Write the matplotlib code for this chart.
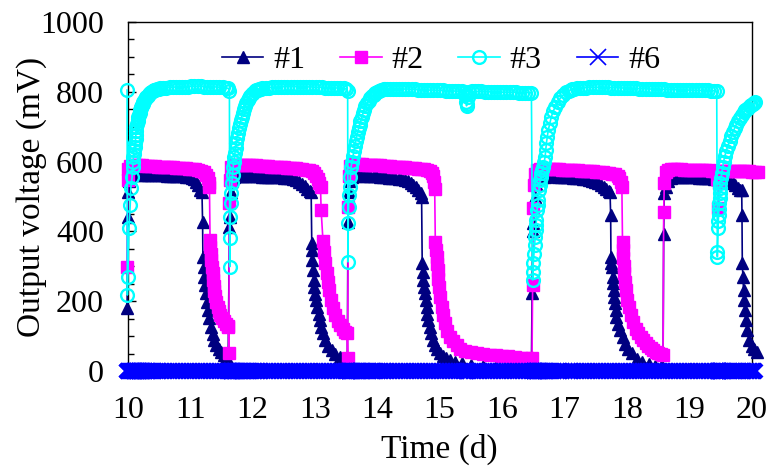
import matplotlib
matplotlib.use('Agg')
import matplotlib.pyplot as plt
from matplotlib.ticker import MultipleLocator

plt.rcParams['font.family'] = ['Liberation Serif', 'DejaVu Serif']

# #1 (navy triangles)
t1 = [9.99, 10.00, 10.005, 10.02, 10.04,
      10.08, 10.13, 10.18, 10.23, 10.28, 10.33, 10.38, 10.43, 10.48, 10.53, 10.58, 10.63, 10.68,
      10.73, 10.78, 10.83, 10.88, 10.93, 10.98, 11.03, 11.07, 11.10, 11.13, 11.16, 11.19,
      11.20, 11.205, 11.22, 11.23, 11.24, 11.25, 11.27, 11.29, 11.31, 11.33, 11.36, 11.39,
      11.42, 11.46, 11.50, 11.54, 11.58, 11.61,
      11.63, 11.64, 11.655, 11.67, 11.70,
      11.75, 11.80, 11.85, 11.90, 11.95, 12.00, 12.05, 12.10, 12.15, 12.20, 12.25, 12.30, 12.35,
      12.40, 12.45, 12.50, 12.55, 12.60, 12.65, 12.70, 12.75, 12.80, 12.84, 12.88, 12.92, 12.94,
      12.95, 12.955, 12.96, 12.97, 12.98, 12.99, 13.00, 13.02, 13.04, 13.06, 13.08, 13.10,
      13.13, 13.16, 13.21, 13.27, 13.33, 13.40, 13.46, 13.52,
      13.53, 13.54, 13.56, 13.59,
      13.64, 13.69, 13.74, 13.79, 13.84, 13.89, 13.94, 13.99, 14.04, 14.09, 14.14, 14.19, 14.24,
      14.29, 14.34, 14.39, 14.44, 14.49, 14.54, 14.58, 14.62, 14.66, 14.70,
      14.71, 14.72, 14.73, 14.74, 14.75, 14.76, 14.775, 14.79, 14.80, 14.82, 14.84, 14.86, 14.89,
      14.92, 14.96, 15.00, 15.05, 15.10, 15.16, 15.25, 15.35, 15.50, 15.70, 15.90, 16.10, 16.30,
      16.47,
      16.48, 16.49, 16.50, 16.52, 16.55, 16.59,
      16.64, 16.69, 16.74, 16.79, 16.84, 16.89, 16.94, 16.99, 17.04, 17.09, 17.14, 17.19, 17.24,
      17.29, 17.34, 17.39, 17.44, 17.49, 17.54, 17.59, 17.63, 17.67, 17.71, 17.73,
      17.74, 17.745, 17.75, 17.76, 17.77, 17.78, 17.79, 17.80, 17.81, 17.82, 17.83, 17.86, 17.89,
      17.93, 17.97, 18.02, 18.08, 18.16, 18.25, 18.35, 18.45, 18.55, 18.58,
      18.59, 18.60, 18.62, 18.66, 18.70,
      18.75, 18.80, 18.85, 18.90, 18.95, 19.00, 19.05, 19.10, 19.15, 19.20, 19.25, 19.30, 19.35,
      19.40, 19.45, 19.50, 19.55, 19.60, 19.65, 19.70, 19.74, 19.78, 19.82, 19.84,
      19.845, 19.85, 19.86, 19.87, 19.88, 19.89, 19.91, 19.93, 19.96, 20.00, 20.04, 20.08]
v1 = [180, 442, 514, 545, 558,
      563, 564, 564, 563, 563, 563, 562, 562, 561, 561, 561, 560, 560,
      559, 559, 558, 558, 557, 556, 554, 550, 543, 532, 518, 514,
      428, 327, 298, 270, 246, 223, 199, 175, 151, 127, 106, 89,
      76, 64, 54, 45, 38, 32,
      413, 442, 514, 545, 556,
      558, 559, 559, 559, 559, 558, 558, 558, 557, 557, 557, 556, 556,
      555, 555, 554, 553, 552, 550, 547, 543, 537, 529, 521, 516, 514,
      367, 347, 318, 290, 262, 242, 222, 203, 184, 165, 146, 127,
      108, 89, 73, 60, 50, 41, 35, 31,
      428, 514, 545, 556,
      560, 561, 561, 560, 560, 559, 559, 558, 557, 556, 555, 554, 553,
      552, 551, 549, 547, 544, 540, 534, 526, 518, 510,
      500, 309, 285, 261, 242, 223, 204, 184, 165, 146, 127, 109, 90,
      75, 62, 52, 44, 38, 32, 27, 22, 18, 15, 13, 12, 11,
      10,
      223, 400, 425, 500, 535, 550,
      555, 557, 558, 558, 558, 557, 557, 556, 556, 555, 554, 553, 552,
      551, 550, 548, 546, 543, 539, 534, 528, 521, 516, 514,
      447, 327, 310, 299, 270, 251, 232, 213, 194, 175, 156, 135, 117,
      97, 79, 64, 51, 36, 27, 20, 15, 12, 10,
      394, 509, 528, 546, 552,
      555, 556, 556, 556, 556, 555, 555, 555, 554, 554, 553, 553, 552,
      551, 550, 549, 548, 546, 543, 538, 532, 525, 520, 519,
      447, 309, 270, 232, 203, 175, 146, 117, 89, 72, 62, 55]

# #2 (magenta squares)
t2 = [9.99, 10.00, 10.01, 10.03,
      10.08, 10.13, 10.18, 10.23, 10.28, 10.33, 10.38, 10.43, 10.48, 10.53, 10.58, 10.63, 10.68,
      10.73, 10.78, 10.83, 10.88, 10.93, 10.98, 11.03, 11.08, 11.13, 11.18, 11.22, 11.25, 11.28,
      11.30, 11.31,
      11.32, 11.325, 11.33, 11.34, 11.35, 11.36, 11.37, 11.38, 11.39, 11.40, 11.42, 11.44, 11.46,
      11.48, 11.51, 11.54, 11.57, 11.60, 11.615, 11.62,
      11.63, 11.64, 11.66,
      11.70, 11.75, 11.80, 11.85, 11.90, 11.95, 12.00, 12.05, 12.10, 12.15, 12.20, 12.25, 12.30,
      12.35, 12.40, 12.45, 12.50, 12.55, 12.60, 12.65, 12.70, 12.75, 12.80, 12.85, 12.90, 12.95,
      12.99, 13.02, 13.05, 13.07, 13.09,
      13.10, 13.13, 13.15, 13.17, 13.19, 13.21, 13.23, 13.26, 13.29, 13.33, 13.37, 13.41, 13.45,
      13.49, 13.515, 13.525,
      13.535, 13.545, 13.565,
      13.60, 13.65, 13.70, 13.75, 13.80, 13.85, 13.90, 13.95, 14.00, 14.05, 14.10, 14.15, 14.20,
      14.25, 14.30, 14.35, 14.40, 14.45, 14.50, 14.55, 14.60, 14.65, 14.70, 14.75, 14.80,
      14.84, 14.87, 14.89, 14.91, 14.92,
      14.93, 14.94, 14.95, 14.96, 14.97, 14.98, 14.99, 15.01, 15.03, 15.05, 15.08, 15.12, 15.17,
      15.22, 15.27, 15.33, 15.40, 15.50, 15.60, 15.70, 15.80, 15.90, 16.00, 16.10, 16.20, 16.30,
      16.40, 16.48,
      16.49, 16.50, 16.51, 16.53, 16.56,
      16.61, 16.66, 16.71, 16.76, 16.81, 16.86, 16.91, 16.96, 17.01, 17.06, 17.11, 17.16, 17.21,
      17.26, 17.31, 17.36, 17.41, 17.46, 17.51, 17.56, 17.61, 17.66, 17.71, 17.76, 17.81,
      17.85, 17.88, 17.90, 17.92,
      17.93, 17.935, 17.94, 17.95, 17.96, 17.97, 17.99, 18.01, 18.04, 18.07, 18.10, 18.14, 18.18,
      18.22, 18.26, 18.30, 18.34, 18.38, 18.42, 18.46, 18.50, 18.54, 18.58,
      18.59, 18.60, 18.62, 18.66,
      18.71, 18.76, 18.81, 18.86, 18.91, 18.96, 19.01, 19.06, 19.11, 19.16, 19.21, 19.26, 19.31,
      19.36, 19.41, 19.44, 19.45, 19.46, 19.47, 19.48,
      19.51, 19.56, 19.61, 19.66, 19.71, 19.76, 19.81, 19.86, 19.91, 19.96, 20.01, 20.06, 20.10]
v2 = [299, 547, 580, 588,
      590, 590, 589, 589, 588, 588, 587, 587, 586, 586, 585, 585, 584,
      584, 583, 582, 582, 581, 580, 579, 578, 576, 574, 570, 563, 552,
      540, 528,
      375, 356, 335, 318, 298, 280, 262, 245, 230, 216, 198, 184, 172,
      162, 152, 143, 135, 128, 125, 51,
      481, 547, 585,
      590, 591, 591, 591, 590, 590, 589, 589, 588, 588, 587, 587, 586,
      586, 585, 585, 584, 583, 583, 582, 581, 580, 579, 577, 575, 572,
      567, 560, 550, 540, 528,
      461, 372, 340, 310, 282, 255, 232, 205, 182, 160, 143, 131, 121,
      113, 108, 37,
      470, 560, 588,
      591, 592, 592, 592, 591, 591, 590, 590, 589, 589, 588, 588, 587,
      586, 586, 585, 584, 584, 583, 582, 581, 580, 579, 578, 576,
      573, 567, 558, 542, 523,
      370, 348, 327, 308, 289, 265, 241, 212, 184, 162, 137, 116, 98,
      85, 74, 64, 58, 55, 52, 49, 47, 45, 43, 42, 40, 39,
      38, 37,
      246, 467, 533, 565, 576,
      578, 579, 579, 579, 578, 578, 578, 577, 577, 576, 576, 575, 575,
      574, 574, 573, 573, 572, 571, 570, 569, 568, 567, 566, 564,
      560, 552, 542, 528,
      370, 346, 323, 300, 280, 256, 232, 205, 184, 160, 140, 122, 108,
      97, 89, 80, 72, 66, 60, 55, 52, 49, 47,
      456, 538, 570, 576,
      578, 578, 578, 578, 577, 577, 577, 576, 576, 576, 575, 575, 575,
      574, 573, 570, 550, 466, 540, 568,
      573, 574, 574, 574, 573, 573, 573, 572, 572, 572, 571, 571, 571]

# #3 (cyan open circles)
t3 = [9.99, 9.995, 10.00, 10.02, 10.04, 10.05, 10.07,
      10.08, 10.085, 10.09, 10.095, 10.10, 10.11, 10.12, 10.125, 10.13, 10.135, 10.14, 10.15,
      10.16, 10.165, 10.17, 10.18, 10.19, 10.195, 10.20, 10.21, 10.22, 10.23, 10.24, 10.25,
      10.265, 10.28, 10.29, 10.30, 10.32, 10.34, 10.36, 10.38, 10.40, 10.42, 10.445, 10.47, 10.495,
      10.52, 10.57, 10.62, 10.67, 10.72, 10.77, 10.82, 10.87, 10.92, 10.97, 11.02, 11.07, 11.12,
      11.17, 11.22, 11.27, 11.32, 11.37, 11.42, 11.47, 11.52, 11.57, 11.61, 11.63,
      11.635, 11.64, 11.645, 11.65, 11.66, 11.67, 11.68,
      11.69, 11.70, 11.71, 11.72, 11.73, 11.74, 11.75, 11.765, 11.78, 11.795, 11.81, 11.825, 11.84,
      11.86, 11.88, 11.90, 11.92, 11.94, 11.96, 11.985, 12.01, 12.035, 12.06, 12.085, 12.11, 12.135,
      12.16, 12.21, 12.26, 12.31, 12.36, 12.41, 12.46, 12.51, 12.56, 12.61, 12.66, 12.71, 12.76,
      12.81, 12.86, 12.91, 12.96, 13.01, 13.06, 13.11, 13.16, 13.21, 13.26, 13.31, 13.36, 13.41,
      13.46, 13.50, 13.525,
      13.53, 13.535, 13.54, 13.55, 13.56, 13.57,
      13.58, 13.595, 13.61, 13.625, 13.64, 13.655, 13.67, 13.685, 13.70, 13.715, 13.73, 13.75, 13.77,
      13.79, 13.81, 13.835, 13.86, 13.885, 13.91, 13.94, 13.97, 14.00, 14.03, 14.065, 14.10, 14.125,
      14.15, 14.20, 14.25, 14.30, 14.35, 14.40, 14.45, 14.50, 14.55, 14.60, 14.65, 14.70, 14.75,
      14.80, 14.85, 14.90, 14.95, 15.00, 15.05, 15.10, 15.15, 15.20, 15.25, 15.30, 15.35,
      15.40, 15.41, 15.42, 15.43, 15.44, 15.45, 15.47,
      15.52, 15.57, 15.62, 15.67, 15.72, 15.77, 15.82, 15.87, 15.92, 15.97, 16.02, 16.07, 16.12,
      16.17, 16.22, 16.27, 16.32, 16.37, 16.42, 16.47,
      16.49, 16.495, 16.50, 16.51, 16.52, 16.53, 16.54, 16.545, 16.55, 16.56, 16.57, 16.58, 16.59,
      16.60, 16.61, 16.62, 16.63, 16.645, 16.66, 16.675, 16.69, 16.70, 16.71, 16.725, 16.74, 16.765,
      16.79, 16.82, 16.85, 16.89, 16.93, 16.98, 17.03, 17.065, 17.10, 17.125,
      17.15, 17.20, 17.25, 17.30, 17.35, 17.40, 17.45, 17.50, 17.55, 17.60,
      17.65, 17.70, 17.75, 17.80, 17.85, 17.90, 17.95, 18.00, 18.05, 18.10,
      18.15, 18.20, 18.25, 18.30, 18.35, 18.40, 18.45, 18.50, 18.55, 18.60,
      18.65, 18.70, 18.75, 18.80, 18.85, 18.90, 18.95, 19.00, 19.05, 19.10,
      19.15, 19.20, 19.25, 19.30, 19.35, 19.40, 19.44,
      19.45, 19.452, 19.46, 19.465, 19.47, 19.475, 19.48, 19.485, 19.49, 19.495, 19.50, 19.51, 19.52,
      19.535, 19.55, 19.57, 19.59, 19.62, 19.65, 19.675, 19.70, 19.725, 19.75, 19.78, 19.81, 19.84,
      19.87, 19.895, 19.92, 19.945, 19.97, 19.995, 20.02, 20.04, 20.06]
v3 = [805, 218, 270, 410, 476, 524, 557,
      585, 600, 613, 623, 633, 643, 653, 665, 677, 689, 700, 708,
      715, 722, 728, 734, 740, 744, 748, 753, 757, 761, 766, 771,
      775, 779, 782, 785, 789, 793, 797, 800, 802, 804, 806, 808, 809,
      810, 811, 812, 813, 813, 814, 814, 815, 815, 815, 816, 816, 816,
      816, 815, 815, 815, 814, 814, 813, 813, 812, 810, 802,
      299, 381, 442, 481, 510, 539, 561,
      585, 598, 612, 626, 640, 654, 668, 682, 695, 707, 718, 729, 740,
      750, 760, 769, 777, 783, 789, 794, 798, 801, 804, 806, 808, 809,
      810, 811, 812, 813, 813, 814, 814, 815, 815, 815, 815, 815, 815,
      815, 814, 814, 814, 813, 813, 813, 812, 812, 812, 811, 811, 811,
      810, 808, 802,
      313, 424, 471, 504, 528, 557,
      585, 600, 615, 630, 645, 659, 672, 684, 695, 705, 715, 727, 738,
      748, 758, 767, 775, 781, 787, 792, 797, 800, 803, 805, 807, 808,
      808, 809, 809, 809, 809, 808, 808, 808, 807, 807, 806, 806, 806,
      805, 805, 805, 804, 804, 804, 803, 803, 803, 802, 802, 802,
      800, 790, 772, 760, 765, 785, 800,
      801, 801, 801, 801, 800, 800, 800, 800, 800, 799, 799, 799, 799,
      799, 799, 798, 798, 798, 798, 797,
      261, 285, 309, 335, 361, 383, 404, 419, 433, 461, 476, 490, 519,
      533, 547, 557, 567, 576, 585, 600, 614, 634, 653, 672, 690, 710,
      729, 744, 757, 770, 781, 791, 800, 803, 806, 808,
      809, 810, 811, 812, 812, 813, 813, 813, 813, 813,
      813, 813, 812, 812, 812, 811, 811, 811, 810, 810,
      810, 809, 809, 809, 808, 808, 808, 807, 807, 807,
      806, 806, 806, 806, 805, 805, 805, 805, 805, 804,
      804, 804, 804, 804, 803, 803, 802,
      328, 342, 410, 430, 447, 465, 481, 496, 510, 525, 539, 553, 567,
      584, 600, 615, 630, 646, 660, 673, 685, 695, 705, 715, 725, 734,
      742, 747, 752, 755, 758, 761, 764, 767, 770]

# #6 stays at zero, logged with #3
v6 = [0] * len(t3)

labels = ['#1', '#2', '#3', '#6']

assert len(t1) == len(v1) and len(t2) == len(v2) and len(t3) == len(v3)

fig = plt.figure(figsize=(7.67, 4.68), dpi=100)
ax = fig.add_axes([0.1665, 0.207, 0.8135, 0.746])

ax.plot(t1, v1, '-^', color='#000080', ms=9, lw=1.2, clip_on=False, label=labels[0], zorder=3)
ax.plot(t2, v2, '-s', color='#FF00FF', ms=8.5, lw=1.2, clip_on=False, label=labels[1], zorder=4)
ax.plot(t3, v3, '-o', color='#00FFFF', ms=9.2, lw=1.2, mfc='none', mew=1.7,
        clip_on=False, label=labels[2], zorder=5)
ax.plot(t3, v6, '-x', color='#0000FF', ms=9.5, lw=1.2, mew=3, clip_on=False,
        label=labels[3], zorder=6)

ax.set_xlim(10, 20)
ax.set_ylim(0, 1000)
ax.xaxis.set_major_locator(MultipleLocator(1))
ax.xaxis.set_minor_locator(MultipleLocator(0.5))
ax.yaxis.set_major_locator(MultipleLocator(200))
ax.yaxis.set_minor_locator(MultipleLocator(50))
ax.tick_params(which='both', direction='in', top=False, right=False, width=1)
ax.tick_params(which='major', length=6)
ax.tick_params(which='minor', length=4.5)
ax.tick_params(axis='x', which='major', labelsize=23, pad=18)
ax.tick_params(axis='y', which='major', labelsize=23, pad=17)
for s in ax.spines.values():
    s.set_linewidth(1.0)

ax.set_xlabel('Time (d)', fontsize=24)
ax.set_ylabel('Output voltage (mV)', fontsize=24)
ax.xaxis.set_label_coords(0.5, -0.18)
ax.yaxis.set_label_coords(-0.13, 0.5)

leg = ax.legend(loc='center', bbox_to_anchor=(0.502, 0.891), ncol=4, frameon=False, fontsize=23,
                handlelength=1.3, handletextpad=0.3, columnspacing=1.1, borderpad=0,
                borderaxespad=0)
# thin cross in the legend, as in the original
leg.legend_handles[3].set_markeredgewidth(1.2)
leg.legend_handles[3].set_markersize(11)

fig.savefig('out.png', dpi=100)
